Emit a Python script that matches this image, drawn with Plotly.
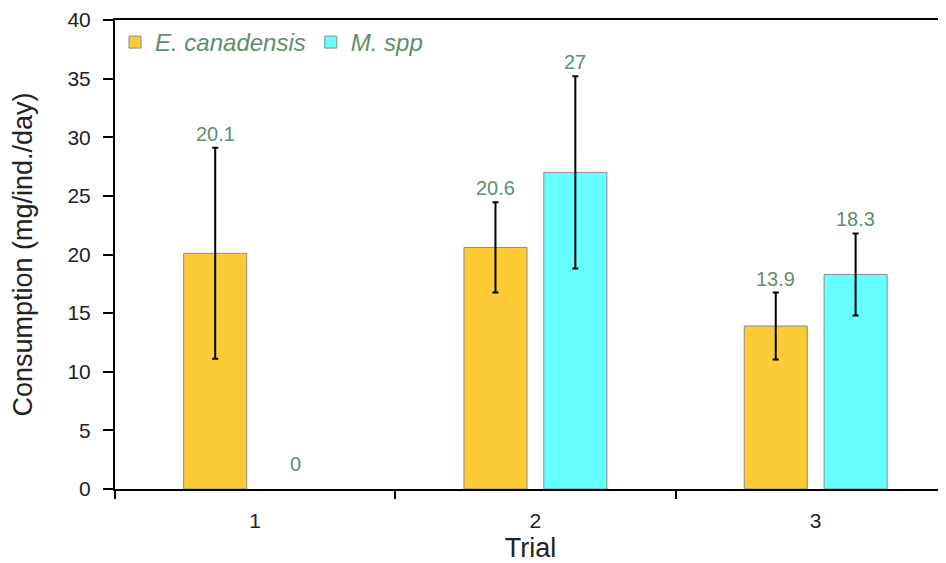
import plotly.graph_objects as go

trials = ["1", "2", "3"]
e_canadensis = [20.1, 20.6, 13.9]
e_canadensis_err = [9.0, 3.85, 2.85]
m_spp = [0, 27, 18.3]
m_spp_err = [0, 8.2, 3.5]
series_names = ["E. canadensis", "M. spp"]
y_ticks = [0, 5, 10, 15, 20, 25, 30, 35, 40]

YELLOW = "#FDCB36"
CYAN = "#66FFFF"
LABEL_COLOR = "#5E8E6E"
FONT = "Liberation Sans, Arial, Helvetica, sans-serif"
BAR_W = 0.225
OFFSETS = [-0.255, 0.03]

fig = go.Figure()
for name, vals, errs, color, off in zip(series_names, [e_canadensis, m_spp],
                                        [e_canadensis_err, m_spp_err],
                                        [YELLOW, CYAN], OFFSETS):
    # zero-height bars are not drawn in the reference (only their label)
    fig.add_trace(go.Bar(
        x=trials, y=[v if v > 0 else None for v in vals], name=name,
        width=BAR_W, offset=off,
        marker=dict(color=color, line=dict(color="#8a8a8a", width=1)),
        error_y=dict(type="data", array=[e if e > 0 else None for e in errs],
                     visible=True, color="black", thickness=2, width=3),
    ))
    for i, (v, e) in enumerate(zip(vals, errs)):
        fig.add_annotation(
            x=i + off + BAR_W / 2, y=v + e, text=f"{v:g}", showarrow=False,
            yanchor="bottom", yshift=1 if e > 0 else 12,
            font=dict(family=FONT, size=20, color=LABEL_COLOR),
        )

# the page body adds an 8px offset; margins compensate
fig.update_layout(
    width=946, height=563,
    margin=dict(l=107, r=8, t=12, b=82, autoexpand=False),
    paper_bgcolor="white", plot_bgcolor="white",
    barmode="group",
    showlegend=True,
    legend=dict(orientation="h", x=0.0, y=1.0, xanchor="left", yanchor="top",
                bgcolor="rgba(0,0,0,0)",
                font=dict(family=FONT, size=24, color=LABEL_COLOR, style="italic"),
                traceorder="normal"),
    font=dict(family=FONT, color="#222"),
)
fig.update_xaxes(
    type="category", range=[-0.5, 2.465], automargin=False,
    showline=True, linecolor="black", linewidth=2, mirror=True,
    ticks="outside", tickson="boundaries", ticklen=8, tickwidth=2, tickcolor="black",
    ticklabelstandoff=12,
    tickfont=dict(family=FONT, size=21, color="#222"),
    title=dict(text="Trial", font=dict(family=FONT, size=27, color="#222"), standoff=7),
    showgrid=False, zeroline=False,
)
fig.update_yaxes(
    range=[0, 40], tickvals=y_ticks, automargin=False,
    showline=True, linecolor="black", linewidth=2, mirror=False,
    ticks="outside", ticklen=10, tickwidth=2, tickcolor="black",
    ticklabelstandoff=8,
    tickfont=dict(family=FONT, size=21, color="#222"),
    title=dict(text="Consumption (mg/ind./day)", font=dict(family=FONT, size=27, color="#222"), standoff=28),
    showgrid=False, zeroline=False,
)
fig.write_html("out.html")
